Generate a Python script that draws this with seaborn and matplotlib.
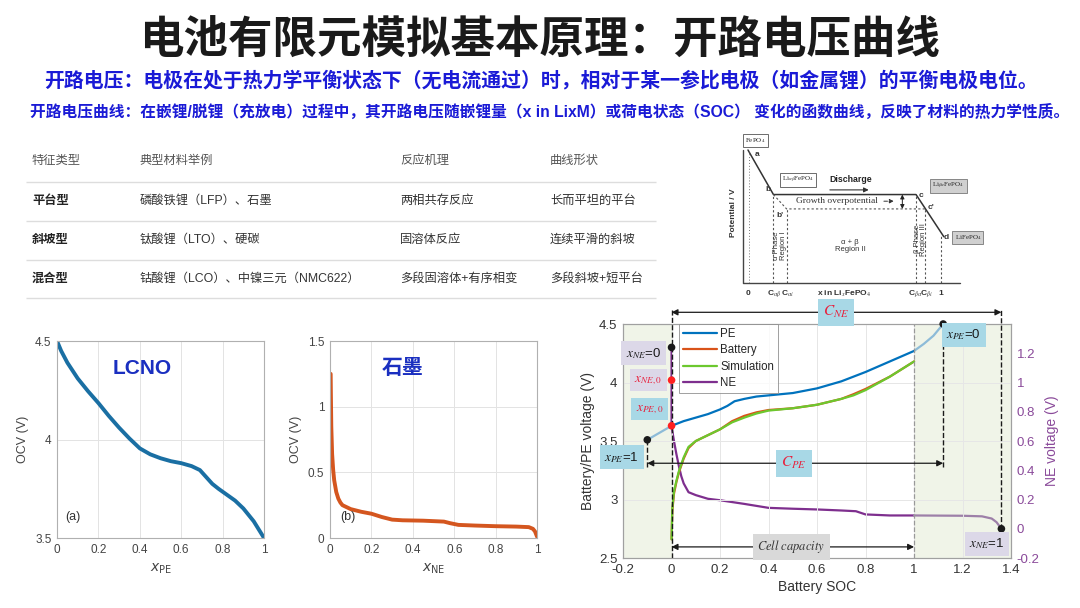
import matplotlib
matplotlib.use('Agg')
import matplotlib.pyplot as plt
import seaborn as sns

sns.set_theme(style='white')
plt.rcParams['font.family'] = ['Liberation Sans', 'Noto Sans CJK SC', 'DejaVu Sans']
plt.rcParams['mathtext.fontset'] = 'stix'
plt.rcParams['axes.unicode_minus'] = False

# texts
title = '电池有限元模拟基本原理：开路电压曲线'
line1 = '开路电压：电极在处于热力学平衡状态下（无电流通过）时，相对于某一参比电极（如金属锂）的平衡电极电位。'
line2 = '开路电压曲线：在嵌锂/脱锂（充放电）过程中，其开路电压随嵌锂量（x in LixM）或荷电状态（SOC） 变化的函数曲线，反映了材料的热力学性质。'

# table
table_header = ['特征类型', '典型材料举例', '反应机理', '曲线形状']
table_type = ['平台型', '斜坡型', '混合型']
table_material = ['磷酸铁锂（LFP）、石墨', '钛酸锂（LTO）、硬碳', '钴酸锂（LCO）、中镍三元（NMC622）']
table_mechanism = ['两相共存反应', '固溶体反应', '多段固溶体+有序相变']
table_shape = ['长而平坦的平台', '连续平滑的斜坡', '多段斜坡+短平台']

# LCNO OCV
lcno_x = [0, 0.02, 0.05, 0.1, 0.15, 0.2, 0.25, 0.3, 0.35, 0.4, 0.45, 0.5, 0.55, 0.6,
          0.65, 0.69, 0.72, 0.75, 0.78, 0.82, 0.86, 0.9, 0.95, 1.0]
lcno_v = [4.50, 4.45, 4.39, 4.31, 4.245, 4.185, 4.12, 4.06, 4.005, 3.955, 3.925, 3.905, 3.89, 3.88,
          3.865, 3.845, 3.81, 3.775, 3.75, 3.72, 3.69, 3.65, 3.585, 3.5]

# graphite OCV
graphite_x = [0.003, 0.004, 0.006, 0.01, 0.015, 0.02, 0.03, 0.04, 0.05, 0.06, 0.08, 0.1, 0.15, 0.2,
              0.25, 0.3, 0.35, 0.45, 0.55, 0.58, 0.62, 0.7, 0.8, 0.9, 0.96, 0.98, 0.99, 1.0]
graphite_v = [1.25, 1.1, 0.85, 0.64, 0.52, 0.44, 0.35, 0.30, 0.27, 0.25, 0.235, 0.22, 0.20, 0.185,
              0.16, 0.14, 0.135, 0.132, 0.125, 0.113, 0.10, 0.095, 0.09, 0.087, 0.083, 0.07, 0.05, 0.01]

# battery SOC plot
pe_soc = [0, 0.05, 0.1, 0.15, 0.2, 0.23, 0.26, 0.3, 0.35, 0.4, 0.5, 0.6, 0.7, 0.8, 0.9, 1.0]
pe_v = [3.63, 3.67, 3.70, 3.73, 3.77, 3.80, 3.84, 3.86, 3.88, 3.89, 3.91, 3.95, 4.01, 4.09, 4.18, 4.27]
pe_lo_soc = [-0.1, -0.05, 0.0]
pe_lo_v = [3.51, 3.57, 3.63]
pe_hi_soc = [1.0, 1.04, 1.08, 1.12]
pe_hi_v = [4.27, 4.33, 4.40, 4.50]

bat_soc = [0, 0.003, 0.01, 0.02, 0.03, 0.05, 0.07, 0.1, 0.15, 0.2, 0.25, 0.3, 0.35, 0.4,
           0.5, 0.6, 0.7, 0.75, 0.8, 0.9, 1.0]
bat_v = [2.66, 2.90, 3.05, 3.15, 3.23, 3.35, 3.44, 3.50, 3.55, 3.60, 3.67, 3.715, 3.745, 3.765,
         3.78, 3.81, 3.86, 3.90, 3.945, 4.05, 4.18]
sim_v = [2.66, 2.92, 3.07, 3.16, 3.24, 3.36, 3.45, 3.50, 3.55, 3.60, 3.66, 3.70, 3.735, 3.76,
         3.78, 3.81, 3.86, 3.89, 3.935, 4.05, 4.18]

ne_soc = [0, 0, 0.01, 0.02, 0.03, 0.04, 0.05, 0.07, 0.1, 0.15, 0.2, 0.3, 0.4, 0.5, 0.6, 0.7,
          0.76, 0.8, 0.9, 1.0]
ne_v = [1.24, 0.70, 0.60, 0.51, 0.43, 0.36, 0.31, 0.25, 0.23, 0.205, 0.195, 0.17, 0.143, 0.137,
        0.132, 0.125, 0.12, 0.098, 0.091, 0.091]
ne_hi_soc = [1.0, 1.1, 1.2, 1.28, 1.32, 1.34, 1.36]
ne_hi_v = [0.091, 0.09, 0.089, 0.085, 0.07, 0.045, 0.0]

dot_soc = [-0.1, 0, 1.12, 1.36]
dot_v = [3.51, 4.30, 4.50, 2.75]
red_soc = [0, 0]
red_v = [4.02, 3.63]

# LFP schematic
lfp_solid_x = [0.0, 0.132, 0.871, 1.015]
lfp_solid_y = [1.0, 0.665, 0.665, 0.348]
lfp_dash_x = [0.132, 0.2, 0.918]
lfp_dash_y = [0.665, 0.557, 0.557]
lfp_drop_x = [0.132, 0.2, 0.871, 0.918, 1.0]
lfp_drop_top = [0.665, 0.557, 0.665, 0.557, 0.36]
lfp_tick_x = [0, 0.137, 0.206, 0.5, 0.866, 0.926, 1.0]
lfp_tick_lab = ['0', r'C$_{\alpha\beta}$', r'C$_{\alpha i}$', r'x in Li$_x$FePO$_4$',
                r'C$_{\beta\alpha}$', r'C$_{\beta i}$', '1']

fig = plt.figure(figsize=(10.8, 6.08), dpi=100)

# background layer for texts and table
bg = fig.add_axes([0, 0, 1, 1])
bg.set_xlim(0, 1080)
bg.set_ylim(608, 0)
bg.axis('off')
blue = '#1a1ad6'
bg.text(540, 42, title, ha='center', va='center', fontsize=32, fontweight='black', color='k')
bg.text(541, 81, line1, ha='center', va='center', fontsize=14.3, fontweight='bold', color=blue)
bg.text(550, 112, line2, ha='center', va='center', fontsize=11.3, fontweight='bold', color=blue)

col_x = [32, 140, 400, 550]
row_y = [161, 201, 240, 279]
for cx, h in zip(col_x, table_header):
    bg.text(cx, row_y[0], h, ha='left', va='center', fontsize=8.8, color='#555555')
for i in range(3):
    y = row_y[i + 1]
    bg.text(col_x[0], y, table_type[i], ha='left', va='center', fontsize=8.8, fontweight='bold', color='#222222')
    bg.text(col_x[1], y, table_material[i], ha='left', va='center', fontsize=8.8, color='#333333')
    bg.text(col_x[2], y, table_mechanism[i], ha='left', va='center', fontsize=8.8, color='#333333')
    bg.text(col_x[3], y, table_shape[i], ha='left', va='center', fontsize=8.8, color='#333333')
bg.hlines([182, 221, 260, 298], 26, 656, color='#dddddd', lw=1)


def matlab_axes(ax):
    for s in ax.spines.values():
        s.set_color('#b0b0b0')
        s.set_linewidth(0.8)
    ax.grid(True, color='#e3e3e3', lw=0.7)
    ax.tick_params(labelsize=8.5, labelcolor='#444444', length=0, pad=4)


# LCNO
ax1 = fig.add_axes([0.0528, 0.1151, 0.1917, 0.324])
sns.lineplot(x=lcno_x, y=lcno_v, ax=ax1, color='#1a6fa3', lw=2.8, sort=False, estimator=None)
ax1.set_xlim(0, 1)
ax1.set_ylim(3.5, 4.5)
ax1.set_xticks([0, 0.2, 0.4, 0.6, 0.8, 1])
ax1.set_xticklabels(['0', '0.2', '0.4', '0.6', '0.8', '1'])
ax1.set_yticks([3.5, 4, 4.5])
ax1.set_yticklabels(['3.5', '4', '4.5'])
matlab_axes(ax1)
ax1.set_ylabel('OCV (V)', fontsize=9, color='#444444', labelpad=4)
ax1.set_xlabel(r'$x_{\mathrm{PE}}$', fontsize=10, color='#444444', labelpad=4, math_fontfamily='dejavusans')
ax1.text(0.04, 0.09, '(a)', transform=ax1.transAxes, fontsize=9, color='#333333')
ax1.text(0.41, 0.86, 'LCNO', transform=ax1.transAxes, fontsize=15, fontweight='bold',
         color='#1a2fc0', ha='center', va='center')

# graphite
ax_g = fig.add_axes([0.3056, 0.1151, 0.1917, 0.324])
sns.lineplot(x=graphite_x, y=graphite_v, ax=ax_g, color='#d4561f', lw=2.8, sort=False, estimator=None)
ax_g.set_xlim(0, 1)
ax_g.set_ylim(0, 1.5)
ax_g.set_xticks([0, 0.2, 0.4, 0.6, 0.8, 1])
ax_g.set_xticklabels(['0', '0.2', '0.4', '0.6', '0.8', '1'])
ax_g.set_yticks([0, 0.5, 1, 1.5])
ax_g.set_yticklabels(['0', '0.5', '1', '1.5'])
matlab_axes(ax_g)
ax_g.set_ylabel('OCV (V)', fontsize=9, color='#444444', labelpad=4)
ax_g.set_xlabel(r'$x_{\mathrm{NE}}$', fontsize=10, color='#444444', labelpad=4, math_fontfamily='dejavusans')
ax_g.text(0.05, 0.09, '(b)', transform=ax_g.transAxes, fontsize=9, color='#333333')
ax_g.text(0.35, 0.86, '石墨', transform=ax_g.transAxes, fontsize=15, fontweight='bold',
          color='#1a2fc0', ha='center', va='center')

# battery SOC
ax = fig.add_axes([0.5769, 0.0822, 0.3593, 0.3849])
ax2 = ax.twinx()
ax.set_zorder(ax2.get_zorder() + 1)
ax.patch.set_visible(False)

shade = '#f0f4e8'
ax2.axvspan(-0.2, 0, color=shade, lw=0, zorder=0)
ax2.axvspan(1, 1.4, color=shade, lw=0, zorder=0)
sns.lineplot(x=ne_soc, y=ne_v, ax=ax2, color='#7e2f8e', lw=1.6, sort=False, estimator=None, label='NE')
sns.lineplot(x=ne_hi_soc, y=ne_hi_v, ax=ax2, color='#9d7fa8', lw=1.6, sort=False, estimator=None)
ax2.set_ylim(-0.2, 1.4)
ax2.set_yticks([-0.2, 0, 0.2, 0.4, 0.6, 0.8, 1, 1.2])
ax2.set_yticklabels(['-0.2', '0', '0.2', '0.4', '0.6', '0.8', '1', '1.2'])
ax2.tick_params(labelsize=9.5, labelcolor='#8a4a9a', length=0, pad=4)
ax2.set_ylabel('NE voltage (V)', fontsize=10, color='#8a4a9a', labelpad=4)
ne_handles, ne_labels = ax2.get_legend_handles_labels()
if ax2.get_legend() is not None:
    ax2.get_legend().remove()

sns.lineplot(x=pe_lo_soc, y=pe_lo_v, ax=ax, color='#8dbbd8', lw=1.6, sort=False, estimator=None)
sns.lineplot(x=pe_hi_soc, y=pe_hi_v, ax=ax, color='#8dbbd8', lw=1.6, sort=False, estimator=None)
sns.lineplot(x=pe_soc, y=pe_v, ax=ax, color='#0072bd', lw=1.6, sort=False, estimator=None, label='PE')
sns.lineplot(x=bat_soc, y=bat_v, ax=ax, color='#d95319', lw=1.6, sort=False, estimator=None, label='Battery')
sns.lineplot(x=bat_soc, y=sim_v, ax=ax, color='#6cc82e', lw=1.6, sort=False, estimator=None, label='Simulation')
ax.set_xlim(-0.2, 1.4)
ax.set_ylim(2.5, 4.5)
ax.set_xticks([-0.2, 0, 0.2, 0.4, 0.6, 0.8, 1, 1.2, 1.4])
ax.set_xticklabels(['-0.2', '0', '0.2', '0.4', '0.6', '0.8', '1', '1.2', '1.4'])
ax.set_yticks([2.5, 3, 3.5, 4, 4.5])
ax.set_yticklabels(['2.5', '3', '3.5', '4', '4.5'])
ax.grid(True, color='#e6e6e6', lw=0.7)
ax.tick_params(labelsize=9.5, labelcolor='#333333', length=0, pad=4)
for s in list(ax.spines.values()) + list(ax2.spines.values()):
    s.set_color('#a0a0a0')
    s.set_linewidth(0.8)
ax.set_xlabel('Battery SOC', fontsize=10, color='#333333', labelpad=3)
ax.set_ylabel('Battery/PE voltage (V)', fontsize=10, color='#333333', labelpad=3)

# guide lines
ax.vlines([0], 2.5, 4.62, colors='k', linestyles='--', lw=1, clip_on=False)
ax.vlines([dot_soc[3]], dot_v[3], 4.62, colors='k', linestyles='--', lw=1, clip_on=False)
ax.vlines([dot_soc[0]], 3.28, dot_v[0], colors='k', linestyles='--', lw=1)
ax.vlines([dot_soc[2]], 3.28, dot_v[2], colors='k', linestyles='--', lw=1)
ax.vlines([1], 2.5, 4.5, colors='#999999', linestyles='--', lw=0.9)

sns.scatterplot(x=dot_soc, y=dot_v, ax=ax, color='k', s=30, zorder=6, clip_on=False, edgecolor='none')
sns.scatterplot(x=red_soc, y=red_v, ax=ax, color='#ff2020', s=30, zorder=6, edgecolor='none')

arrow = dict(arrowstyle='<|-|>', color='k', lw=0.9, mutation_scale=9, shrinkA=0, shrinkB=0)
ax.annotate('', xy=(dot_soc[3], 4.6), xytext=(0, 4.6), arrowprops=arrow, annotation_clip=False)
ax.annotate('', xy=(dot_soc[2], 3.31), xytext=(dot_soc[0], 3.31), arrowprops=arrow)
ax.annotate('', xy=(1.0, 2.595), xytext=(0, 2.595), arrowprops=arrow)

lblue = '#a8d8e6'
lav = '#dcd8e8'
red = '#e8203c'


def tag(x, y, s, fc, color='k', size=9.5):
    ax.text(x, y, s, ha='center', va='center', fontsize=size, color=color, zorder=7, clip_on=False,
            bbox=dict(boxstyle='square,pad=0.35', fc=fc, ec='none'))


tag(0.678, 4.6, r'$C_{NE}$', lblue, red, 11)
tag(0.504, 3.31, r'$C_{PE}$', lblue, red, 11)
tag(0.493, 2.595, r'$\mathit{Cell\ capacity}$', '#d9d9d9', '#333333', 9)
tag(-0.116, 4.25, r'$x_{NE}$=0', lav)
tag(-0.096, 4.02, r'$x_{NE,0}$', lav, red)
tag(-0.09, 3.77, r'$x_{PE,0}$', lblue, red)
tag(-0.205, 3.36, r'$x_{PE}$=1', lblue)
tag(1.205, 4.41, r'$x_{PE}$=0', lblue)
tag(1.30, 2.62, r'$x_{NE}$=1', lav)

handles, labels = ax.get_legend_handles_labels()
if ax.get_legend() is not None:
    ax.get_legend().remove()
leg = ax.legend(handles + ne_handles, labels + ne_labels, loc='upper left', bbox_to_anchor=(0.145, 1.0),
                fontsize=8.3, frameon=True, fancybox=False, edgecolor='#888888', handlelength=2.9,
                borderpad=0.35, labelspacing=0.38, handletextpad=0.3, borderaxespad=0)
leg.get_frame().set_linewidth(0.7)
leg.set_zorder(8)

# LFP schematic
axs = fig.add_axes([0.674, 0.5033, 0.2426, 0.2747])
axs.set_xlim(-0.104, 1.254)
axs.set_ylim(-0.143, 1.113)
axs.axis('off')
sns.lineplot(x=lfp_solid_x, y=lfp_solid_y, ax=axs, color='#333333', lw=1.1, sort=False, estimator=None)
axs.plot(lfp_dash_x, lfp_dash_y, color='#555555', lw=0.8, ls=(0, (2, 2)))
axs.vlines(lfp_drop_x, 0, lfp_drop_top, colors='#555555', linestyles=(0, (2, 2)), lw=0.8)
axs.vlines([0.005], 0, 1.0, colors='#777777', linestyles=(0, (1, 2)), lw=0.7)
axs.plot([-0.026, -0.026, 1.098], [1.0, 0, 0], color='#444444', lw=1.0)
for tx, tl in zip(lfp_tick_x, lfp_tick_lab):
    axs.text(tx, -0.08, tl, ha='center', va='center', fontsize=6, fontweight='bold', color='#333333')
axs.text(-0.075, 0.53, 'Potential / V', rotation=90, ha='center', va='center', fontsize=6,
         fontweight='bold', color='#333333')
sbox = dict(boxstyle='square,pad=0.3', fc='white', ec='#555555', lw=0.6)
gbox = dict(boxstyle='square,pad=0.3', fc='#d0d0d0', ec='#777777', lw=0.6)
axs.text(0.04, 1.07, r'FePO$_4$', ha='center', va='center', fontsize=5, family='Liberation Serif', bbox=sbox)
axs.text(0.26, 0.776, r'Li$_{\alpha\beta}$FePO$_4$', ha='center', va='center', fontsize=5,
         family='Liberation Serif', bbox=sbox)
axs.text(1.04, 0.731, r'Li$_{\beta\alpha}$FePO$_4$', ha='center', va='center', fontsize=5,
         family='Liberation Serif', bbox=gbox)
axs.text(1.14, 0.34, r'LiFePO$_4$', ha='center', va='center', fontsize=5, family='Liberation Serif', bbox=gbox)
axs.text(0.53, 0.78, 'Discharge', ha='center', va='center', fontsize=6.3, fontweight='bold', color='#222222')
axs.annotate('', xy=(0.64, 0.70), xytext=(0.41, 0.70),
             arrowprops=dict(arrowstyle='-|>', color='#333333', lw=0.8, mutation_scale=7))
axs.text(0.46, 0.615, 'Growth overpotential', ha='center', va='center', fontsize=6.8,
         family='Liberation Serif', color='#333333')
axs.annotate('', xy=(0.77, 0.615), xytext=(0.69, 0.615),
             arrowprops=dict(arrowstyle='-|>', color='#333333', lw=0.7, ls='--', mutation_scale=6))
axs.annotate('', xy=(0.80, 0.557), xytext=(0.80, 0.665),
             arrowprops=dict(arrowstyle='<|-|>', color='#222222', lw=0.7, mutation_scale=6, shrinkA=0, shrinkB=0))
for px, py, s in [(0.045, 0.965, 'a'), (0.105, 0.70, 'b'), (0.165, 0.51, "b'"), (0.895, 0.66, 'c'),
                  (0.95, 0.57, "c'"), (1.025, 0.34, 'd')]:
    axs.text(px, py, s, ha='center', va='center', fontsize=6, fontweight='bold', color='#333333')
axs.text(0.165, 0.28, 'α Phase\nRegion I', rotation=90, ha='center', va='center', fontsize=5.5,
         color='#333333', linespacing=0.9)
axs.text(0.53, 0.28, 'α + β\nRegion II', ha='center', va='center', fontsize=5.5, color='#333333', linespacing=1.0)
axs.text(0.895, 0.33, 'β Phase\nRegion III', rotation=90, ha='center', va='center', fontsize=5.5,
         color='#333333', linespacing=0.9)

fig.savefig('out.png', dpi=100)
